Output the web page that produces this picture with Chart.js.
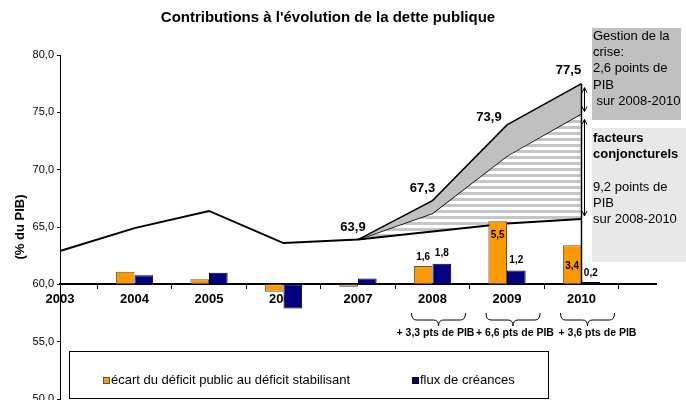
<!DOCTYPE html>
<html><head><meta charset="utf-8">
<script src="https://cdn.jsdelivr.net/npm/chart.js@4/dist/chart.umd.min.js"></script>
<style>
html,body{margin:0;padding:0;background:#fff;overflow:hidden;width:686px;height:400px}
#wrap{position:relative;width:686px;height:420px}
</style></head><body>
<div id="wrap"><canvas id="c" width="686" height="420"></canvas></div>
<script>
// ---- data ----
const chartTitle = "Contributions à l'évolution de la dette publique";
const years = ['2003','2004','2005','2006','2007','2008','2009','2010',''];
const detteHorsCrise = [62.9, 64.9, 66.4, 63.6, 63.9, 64.6, 65.3, 65.7, null];
const detteConjoncture = [null, null, null, null, 63.9, 66.2, 71.2, 74.9, null];
const detteTotale = [null, null, null, null, 63.9, 67.3, 73.9, 77.5, null];
const ecartDeficit = [null, 1.1, 0.45, -0.65, -0.2, 1.6, 5.5, 3.4, null];
const fluxCreances = [null, 0.8, 1.0, -2.1, 0.5, 1.8, 1.2, 0.2, null];
const yTicksMin = 50, yTicksMax = 80, yStep = 5, barBase = 60;
const ecartLabel = 'écart du déficit public au déficit stabilisant';
const fluxLabel = 'flux de créances';
const hausseParAn = ['+ 3,3 pts de PIB', '+ 6,6 pts de PIB', '+ 3,6 pts de PIB'];
const boxGestion = ['Gestion de la', 'crise:', '2,6 points de', 'PIB', ' sur 2008-2010'];
const boxConjBold = ['facteurs', 'conjoncturels'];
const boxConj = ['9,2 points de', 'PIB', 'sur 2008-2010'];

// ---- styles ----
const FONT = "'Liberation Sans', Arial, Helvetica, sans-serif";
const ORANGE = '#FF9900', NAVY = '#000080';
const fmt = v => v.toFixed(1).replace('.', ',');

const pc = document.createElement('canvas'); pc.width = 4; pc.height = 6;
const pctx = pc.getContext('2d');
pctx.fillStyle = '#ffffff'; pctx.fillRect(0, 0, 4, 6);
pctx.fillStyle = '#c6c6c6'; pctx.fillRect(0, 0, 4, 3);
const cnv = document.getElementById('c');
const stripes = cnv.getContext('2d').createPattern(pc, 'repeat');

const totalLabelOffsets = [[-5, -12], [-10, -12.5], [-18, -8], [-13, -13]];
const ecartLabelDy = [-9, 14, 21];
const fluxLabelDy = [-10, -10, -9];
const braceDx = 6, hausseDx = [3, 8, 16];

const annot = {
  id: 'annot',
  afterDatasetsDraw(chart) {
    const {ctx, scales: {x, y}} = chart;
    const X = i => x.getPixelForValue(i);
    const Y = v => y.getPixelForValue(v);
    ctx.save();
    ctx.strokeStyle = '#000'; ctx.lineWidth = 1.5;
    ctx.beginPath(); ctx.moveTo(X(7), Y(detteTotale[7])); ctx.lineTo(X(7), Y(barBase)); ctx.stroke();

    ctx.fillStyle = '#000'; ctx.textAlign = 'center'; ctx.textBaseline = 'middle';
    ctx.font = `bold 13px ${FONT}`;
    for (let k = 0; k < 4; k++) {
      const i = 4 + k;
      ctx.fillText(fmt(detteTotale[i]), X(i) + totalLabelOffsets[k][0], Y(detteTotale[i]) + totalLabelOffsets[k][1]);
    }
    ctx.font = `bold 10px ${FONT}`;
    const metaE = chart.getDatasetMeta(3), metaF = chart.getDatasetMeta(4);
    for (let k = 0; k < 3; k++) {
      const i = 5 + k;
      const be = metaE.data[i], bf = metaF.data[i];
      ctx.fillText(fmt(ecartDeficit[i]), be.x, be.y + ecartLabelDy[k]);
      ctx.fillText(fmt(fluxCreances[i]), bf.x, bf.y + fluxLabelDy[k]);
    }
    ctx.restore();
  },
  afterDraw(chart) {
    const {ctx, scales: {x, y}} = chart;
    const X = i => x.getPixelForValue(i);
    const Y = v => y.getPixelForValue(v);
    ctx.save();
    const ax = X(7) + 3;
    const arrow = (y1, y2) => {
      ctx.beginPath(); ctx.moveTo(ax, y1); ctx.lineTo(ax, y2); ctx.stroke();
      ctx.beginPath(); ctx.moveTo(ax - 2.5, y1 + 5); ctx.lineTo(ax, y1); ctx.lineTo(ax + 2.5, y1 + 5); ctx.stroke();
      ctx.beginPath(); ctx.moveTo(ax - 2.5, y2 - 5); ctx.lineTo(ax, y2); ctx.lineTo(ax + 2.5, y2 - 5); ctx.stroke();
    };
    ctx.strokeStyle = '#000'; ctx.lineWidth = 1;
    arrow(Y(detteTotale[7]) + 4, Y(detteConjoncture[7]) - 2);
    arrow(Y(detteConjoncture[7]) + 6, Y(detteHorsCrise[7]) - 3);

    ctx.fillStyle = '#c0c0c0'; ctx.fillRect(592, 28, 89, 92);
    ctx.fillStyle = '#e8e8e8'; ctx.fillRect(592, 128, 94, 134);
    ctx.fillStyle = '#000'; ctx.textAlign = 'left'; ctx.textBaseline = 'middle';
    ctx.font = `13px ${FONT}`;
    boxGestion.forEach((t, k) => ctx.fillText(t, 593, 36 + k * 16.4));
    ctx.font = `bold 13px ${FONT}`;
    boxConjBold.forEach((t, k) => ctx.fillText(t, 593, 138 + k * 16.5));
    ctx.font = `13px ${FONT}`;
    boxConj.forEach((t, k) => ctx.fillText(t, 593, 187 + k * 16));

    ctx.lineWidth = 1; ctx.strokeStyle = '#000';
    for (let k = 0; k < 3; k++) {
      const cx = X(5 + k) + braceDx, l = cx - 27, r = cx + 27, t = 313, m = 320, b = 326;
      ctx.beginPath();
      ctx.moveTo(l, t); ctx.quadraticCurveTo(l, m, l + 5, m); ctx.lineTo(cx - 5, m);
      ctx.quadraticCurveTo(cx, m, cx, b); ctx.quadraticCurveTo(cx, m, cx + 5, m);
      ctx.lineTo(r - 5, m); ctx.quadraticCurveTo(r, m, r, t);
      ctx.stroke();
      ctx.fillStyle = '#000'; ctx.textAlign = 'center'; ctx.font = `bold 10.5px ${FONT}`;
      ctx.fillText(hausseParAn[k], X(5 + k) + hausseDx[k], 333);
    }

    ctx.fillStyle = '#fff'; ctx.fillRect(69.5, 351.5, 479, 47);
    ctx.strokeStyle = '#000'; ctx.strokeRect(69.5, 351.5, 479, 47);
    const ds = chart.data.datasets;
    const item = (sx, color, border, label) => {
      ctx.fillStyle = color; ctx.fillRect(sx, 377, 6, 6);
      ctx.strokeStyle = border; ctx.strokeRect(sx + 0.5, 377.5, 6, 6);
      ctx.fillStyle = '#000'; ctx.textAlign = 'left'; ctx.textBaseline = 'middle';
      ctx.font = `13px ${FONT}`; ctx.fillText(label, sx + 8, 380);
    };
    item(103, ds[3].backgroundColor, '#555', ds[3].label);
    item(412, ds[4].backgroundColor, '#000', ds[4].label);
    ctx.restore();
  }
};

new Chart(cnv, {
  type: 'bar',
  data: {
    labels: years,
    datasets: [
      {type: 'line', label: 'dette', data: detteHorsCrise, borderColor: '#000', borderWidth: 2,
       pointRadius: 0, tension: 0, fill: false, order: 3},
      {type: 'line', label: 'facteurs conjoncturels', data: detteConjoncture, borderColor: '#000', borderWidth: 1.5,
       pointRadius: 0, tension: 0, fill: {target: 0}, backgroundColor: stripes, order: 3},
      {type: 'line', label: 'gestion de la crise', data: detteTotale, borderColor: '#000', borderWidth: 1.5,
       pointRadius: 0, tension: 0, fill: {target: 1}, backgroundColor: '#c0c0c0', order: 2},
      {type: 'bar', label: ecartLabel, data: ecartDeficit.map(v => v == null ? null : [barBase, barBase + v]),
       backgroundColor: ORANGE, borderColor: '#555', borderWidth: 1, borderSkipped: false,
       categoryPercentage: 0.5, barPercentage: 1, order: 1},
      {type: 'bar', label: fluxLabel, data: fluxCreances.map(v => v == null ? null : [barBase, barBase + v]),
       backgroundColor: NAVY, borderColor: '#000033', borderWidth: 1, borderSkipped: false,
       categoryPercentage: 0.5, barPercentage: 1, order: 1}
    ]
  },
  options: {
    responsive: false, animation: false,
    layout: {padding: {left: 0, right: 30, top: 0, bottom: 21}},
    plugins: {
      legend: {display: false}, tooltip: {enabled: false},
      title: {display: true, text: chartTitle, color: '#000',
              font: {family: FONT, size: 15, weight: 'bold'}, padding: {top: 9, bottom: 28}}
    },
    scales: {
      x: {type: 'category', offset: false, position: {y: barBase}, z: 1,
          grid: {drawOnChartArea: false, drawTicks: true, tickLength: 4, color: '#000'},
          border: {display: true, color: '#000', width: 2},
          ticks: {autoSkip: false, maxRotation: 0, color: '#000', padding: 3,
                  font: {family: FONT, size: 13, weight: 'bold'}}},
      y: {min: yTicksMin, max: yTicksMax, position: 'left',
          ticks: {stepSize: yStep, color: '#000', padding: 3, font: {family: FONT, size: 11},
                  callback: v => fmt(v)},
          grid: {drawOnChartArea: false, drawTicks: true, tickLength: 3, color: '#000'},
          border: {display: true, color: '#000', width: 1},
          title: {display: true, text: '(% du PIB)', color: '#000',
                  font: {family: FONT, size: 13, weight: 'bold'}, padding: {top: 13, bottom: 0}},
          afterFit: s => { s.width = 60; }}
    }
  },
  plugins: [annot]
});
</script>
</body></html>
